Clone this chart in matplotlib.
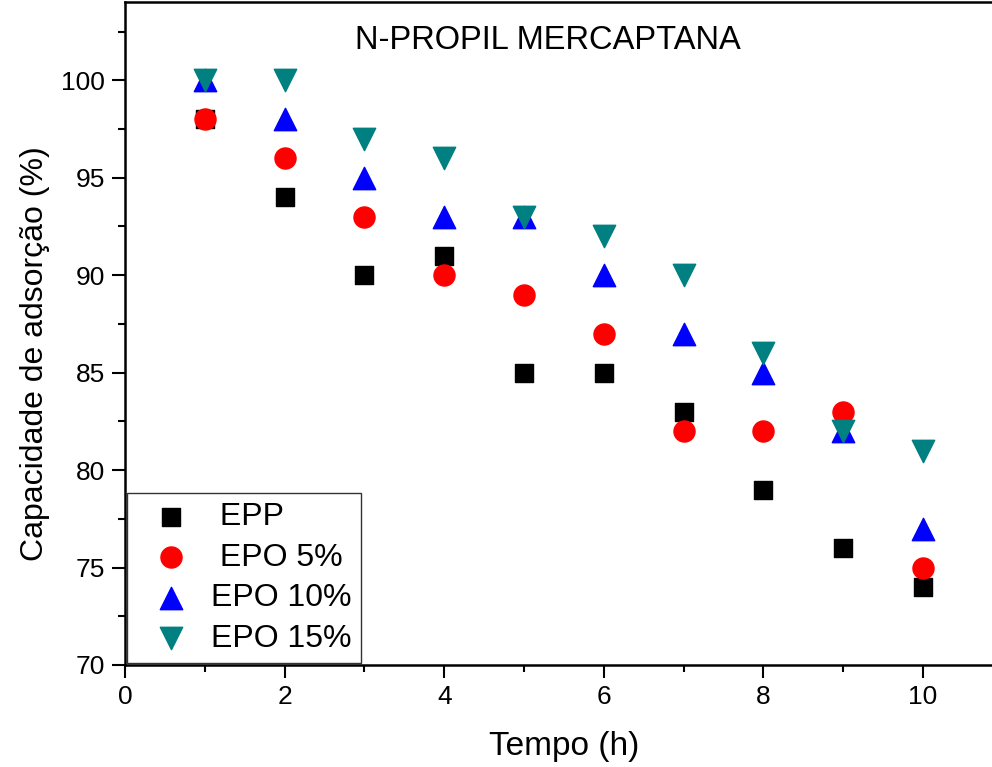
import matplotlib
matplotlib.use("Agg")
import matplotlib.pyplot as plt
from matplotlib.ticker import MultipleLocator

plt.rcParams['font.family'] = ['Liberation Sans', 'DejaVu Sans']

tempo = [1, 2, 3, 4, 5, 6, 7, 8, 9, 10]
epp = [98, 94, 90, 91, 85, 85, 83, 79, 76, 74]
epo5 = [98, 96, 93, 90, 89, 87, 82, 82, 83, 75]
epo10 = [100, 98, 95, 93, 93, 90, 87, 85, 82, 77]
epo15 = [100, 100, 97, 96, 93, 92, 90, 86, 82, 81]

fig = plt.figure(figsize=(9.92, 7.67), dpi=100)
ax = fig.add_axes([0.126, 0.133, 0.885, 0.864])

ax.scatter(tempo, epp, marker='s', s=170, color='black', label=' EPP', zorder=3)
ax.scatter(tempo, epo5, marker='o', s=230, color='red', label=' EPO 5%', zorder=3)
ax.scatter(tempo, epo10, marker='^', s=260, color='blue', label='EPO 10%', zorder=3)
ax.scatter(tempo, epo15, marker='v', s=260, color='#008080', label='EPO 15%', zorder=3)

ax.set_xlim(0, 11)
ax.set_ylim(70, 104)
ax.xaxis.set_major_locator(MultipleLocator(2))
ax.xaxis.set_minor_locator(MultipleLocator(1))
ax.yaxis.set_major_locator(MultipleLocator(5))
ax.yaxis.set_minor_locator(MultipleLocator(2.5))
ax.tick_params(which='major', length=9.5, width=1.5, labelsize=19, direction='out', pad=5)
ax.tick_params(which='minor', length=5, width=1.5, direction='out')
for sp in ax.spines.values():
    sp.set_linewidth(1.8)

ax.set_xlabel('Tempo (h)', fontsize=24, labelpad=16)
ax.set_ylabel('Capacidade de adsorção (%)', fontsize=23)
ax.yaxis.set_label_coords(-0.085, 0.47)
ax.text(0.482, 0.943, 'N-PROPIL MERCAPTANA', transform=ax.transAxes,
        ha='center', va='center', fontsize=23.5)

leg = ax.legend(loc='lower left', bbox_to_anchor=(0.0, 0.0), fontsize=23,
                frameon=True, fancybox=False, edgecolor='black',
                handletextpad=0.15, labelspacing=0.33, borderpad=0.3,
                borderaxespad=0.05, handlelength=2.2)
leg.get_frame().set_linewidth(1.0)

fig.savefig('out.png', dpi=100)
